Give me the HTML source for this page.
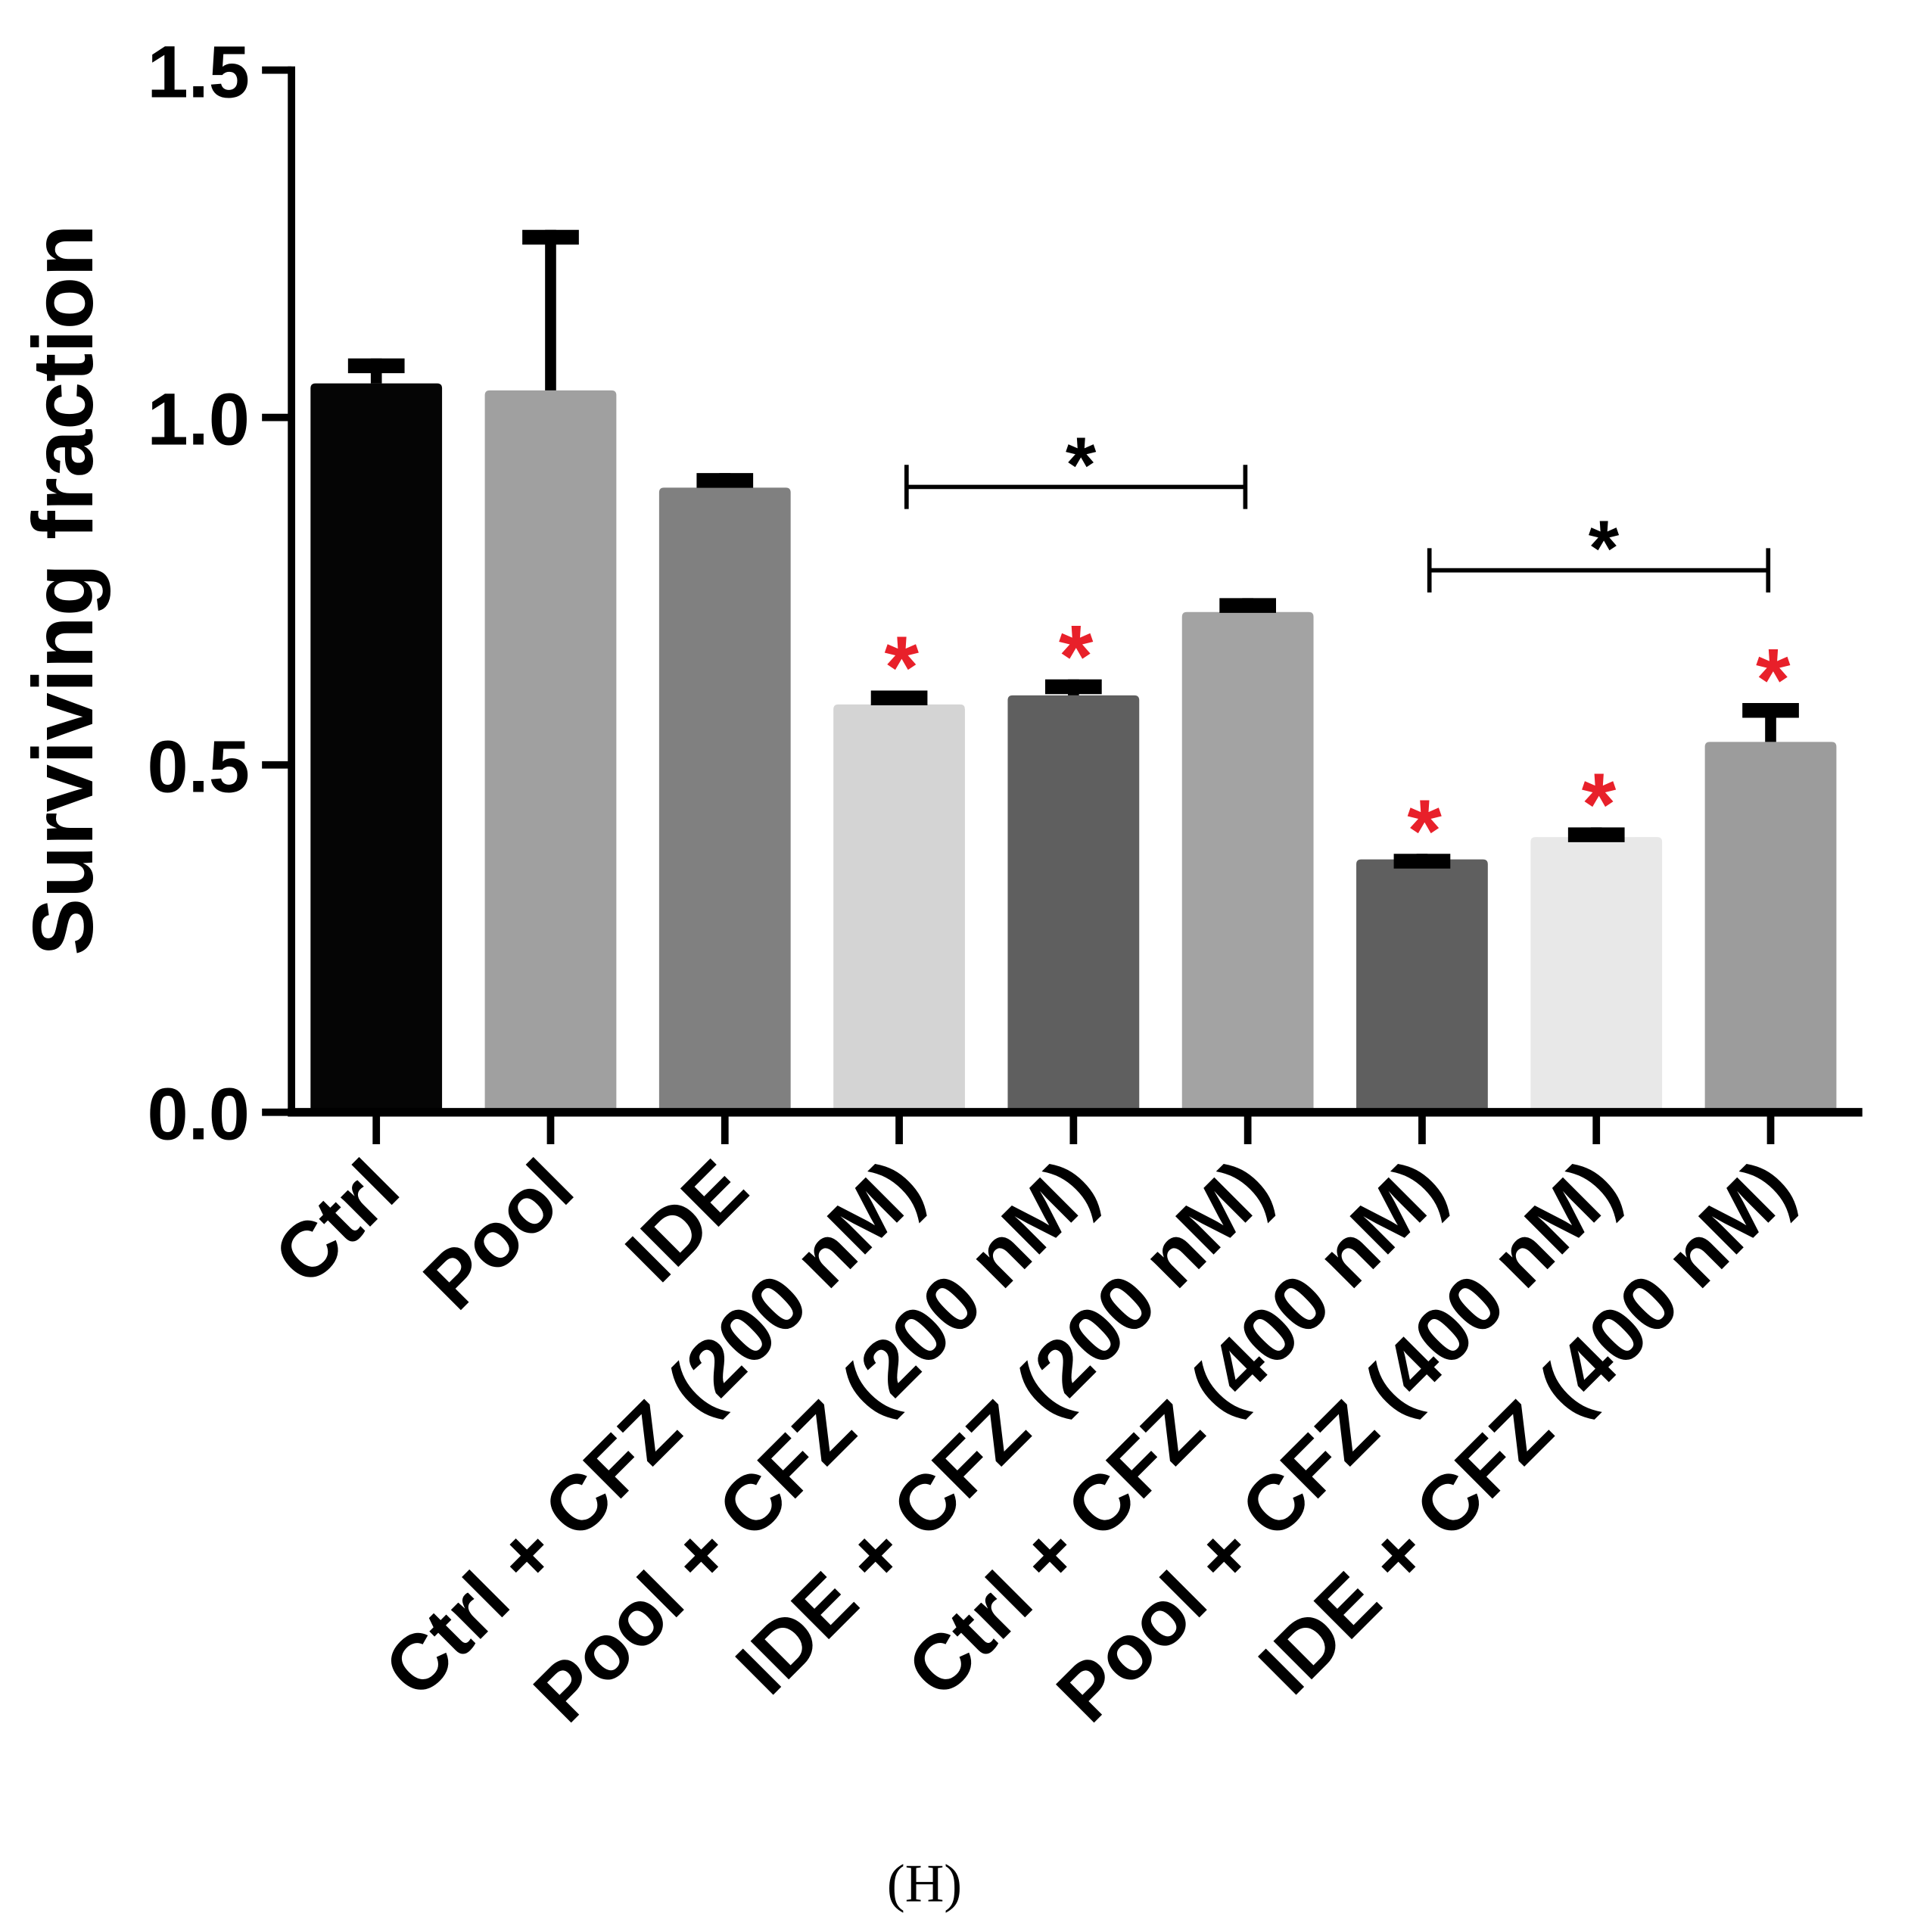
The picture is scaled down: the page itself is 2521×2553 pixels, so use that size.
<!DOCTYPE html>
<html><head><meta charset="utf-8"><style>
html,body{margin:0;padding:0;background:#fff}
svg{display:block}
</style></head><body>
<svg id="chart" xmlns="http://www.w3.org/2000/svg" width="2521" height="2553" viewBox="0 0 1552 1572" font-family="Liberation Sans, sans-serif"></svg>
<script>
const categories = ["Ctrl","Pool","IDE","Ctrl + CFZ (200 nM)","Pool + CFZ (200 nM)","IDE + CFZ (200 nM)","Ctrl + CFZ (400 nM)","Pool + CFZ (400 nM)","IDE + CFZ (400 nM)"];
const means = [1.049,1.039,0.899,0.587,0.600,0.720,0.364,0.396,0.533];
const errors = [0.036,0.231,0.021,0.020,0.023,0.020,0.008,0.014,0.056];
const barColors = ["#050505","#a0a0a0","#808080","#d4d4d4","#5f5f5f","#a3a3a3","#5f5f5f","#e8e8e8","#9c9c9c"];
const significant = [false,false,false,true,true,false,true,true,true];
const yTicks = [0,0.5,1.0,1.5];
const yTickLabels = ["0.0","0.5","1.0","1.5"];
const brackets = [[3,5,0.9],[6,8,0.78]];

const svg = document.getElementById('chart');
const NS = 'http://www.w3.org/2000/svg';
const X0 = 237, X1 = 1515, Y0 = 905, Ytop = 57, yMax = 1.5;
const step = 141.8, first = 306, bw = 107;
const y = v => Y0 - v / yMax * (Y0 - Ytop);
const x = i => first + i * step;
function mk(tag, attrs, parent) {
  const e = document.createElementNS(NS, tag);
  for (const k in attrs) e.setAttribute(k, attrs[k]);
  (parent || svg).appendChild(e);
  return e;
}

categories.forEach((c, i) => {
  const g = mk('g', {});
  
  
  const cx = x(i), top = y(means[i]), et = y(means[i] + errors[i]);
  const r = mk('path', {d: `M${cx-bw/2},${Y0} L${cx-bw/2},${top+4} Q${cx-bw/2},${top} ${cx-bw/2+4},${top} L${cx+bw/2-4},${top} Q${cx+bw/2},${top} ${cx+bw/2},${top+4} L${cx+bw/2},${Y0} Z`, fill: barColors[i]}, g);
  
  
  const el = mk('line', {x1: cx, x2: cx, y1: top, y2: et, stroke: '#000', 'stroke-width': 9}, g);
  
  
  const cap = mk('line', {x1: cx-23, x2: cx+23, y1: et+6, y2: et+6, stroke: '#000', 'stroke-width': 12}, g);
  
  
  if (significant[i]) {
    const s = mk('text', {x: cx + 2, y: et + 6, 'text-anchor': 'middle', 'font-size': 72, 'font-weight': 'bold', fill: '#e8202a'}, g);
    s.textContent = '*';
    
    
  }
  const t = mk('line', {x1: cx, x2: cx, y1: Y0, y2: Y0 + 26, stroke: '#000', 'stroke-width': 6});
  
  
  const lx = cx + 22, ly = Y0 + 66;
  const lab = mk('text', {x: lx, y: ly, 'text-anchor': 'end', 'font-size': 64, 'font-weight': 'bold', fill: '#000', transform: `rotate(-45 ${lx} ${ly})`});
  lab.textContent = c;
  
  
});

const ya = mk('line', {x1: X0, x2: X0, y1: Ytop - 3, y2: Y0 + 3, stroke: '#000', 'stroke-width': 6});


const xa = mk('line', {x1: X0 - 3, x2: X1, y1: Y0, y2: Y0, stroke: '#000', 'stroke-width': 7});


yTicks.forEach((v, i) => {
  const t = mk('line', {x1: X0 - 24, x2: X0, y1: y(v), y2: y(v), stroke: '#000', 'stroke-width': 6});
  
  
  const l = mk('text', {x: 203, y: y(v) + 22, 'text-anchor': 'end', 'font-size': 60, 'font-weight': 'bold'});
  l.textContent = yTickLabels[i];
  
  
});

brackets.forEach(b => {
  const g = mk('g', {});
  
  
  const xa1 = x(b[0]) + 6, xa2 = x(b[1]) - 2, by = y(b[2]);
  mk('line', {x1: xa1, x2: xa2, y1: by, y2: by, stroke: '#000', 'stroke-width': 3.5}, g);
  mk('line', {x1: xa1, x2: xa1, y1: by - 18, y2: by + 18, stroke: '#000', 'stroke-width': 3.5}, g);
  mk('line', {x1: xa2, x2: xa2, y1: by - 18, y2: by + 18, stroke: '#000', 'stroke-width': 3.5}, g);
  const s = mk('text', {x: (xa1 + xa2) / 2 + 4, y: by + 4, 'text-anchor': 'middle', 'font-size': 64, 'font-weight': 'bold'}, g);
  s.textContent = '*';
});

const yt = mk('text', {x: 0, y: 0, 'text-anchor': 'middle', 'font-size': 70, 'font-weight': 'bold', transform: 'translate(75 480) rotate(-90)'});
yt.textContent = 'Surviving fraction';


const cap = mk('text', {x: 752, y: 1547, 'text-anchor': 'middle', 'font-size': 44, 'font-family': 'Liberation Serif, serif'});
cap.textContent = '(H)';


</script>
</body></html>
